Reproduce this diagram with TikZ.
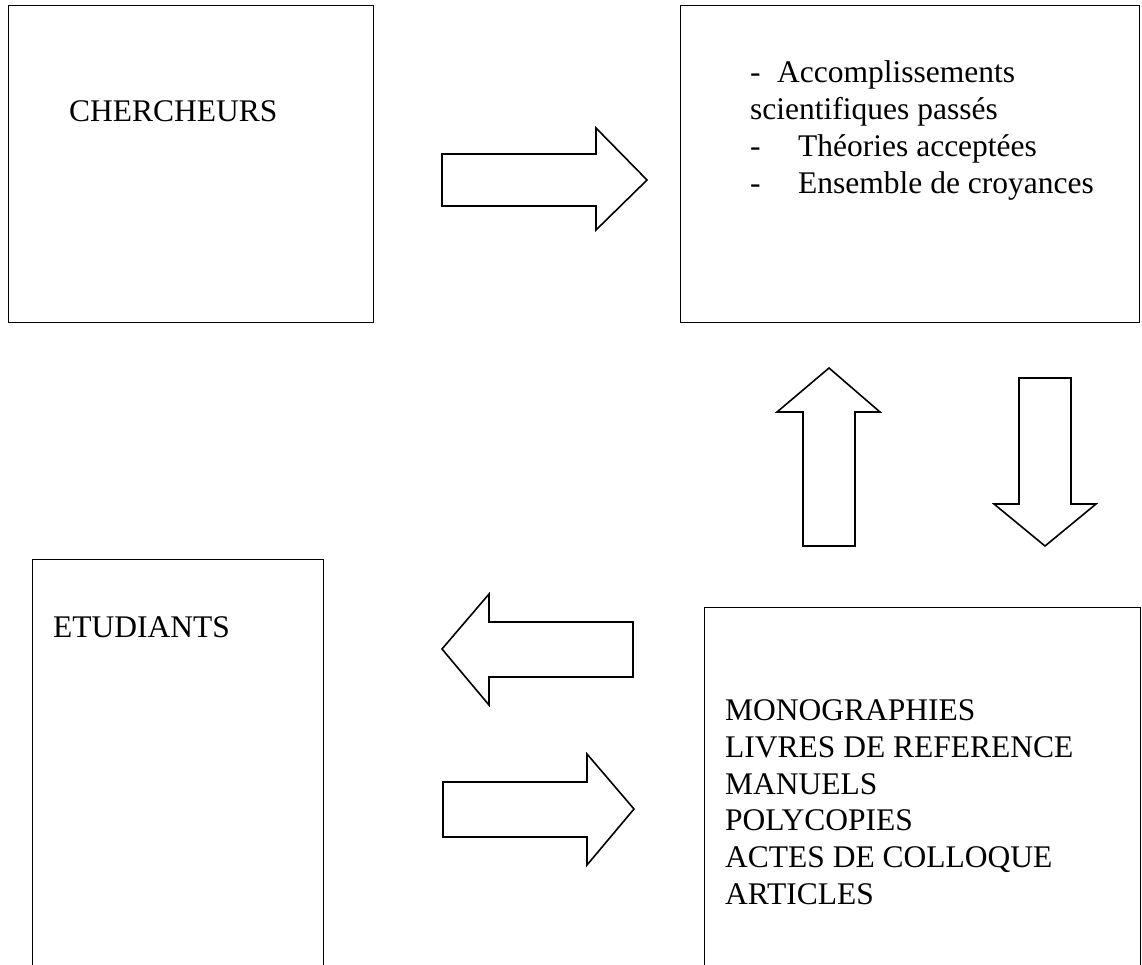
\documentclass[tikz,border=0pt]{standalone}
\usepackage{fontspec}
\setmainfont{Liberation Serif}
\tikzset{
  box/.style={draw=black, line width=1.1pt, inner sep=0pt, anchor=north west},
  blockarrow/.style={draw=black, line width=1.6pt, line join=miter, fill=white},
  txt/.style={inner sep=0pt, anchor=base west, font=\fontsize{31.5}{36.8}\selectfont}
}
\begin{document}
\begin{tikzpicture}[x=1pt,y=-1pt]
\useasboundingbox (0,0) rectangle (1142,964);
% boxes
\node[box, minimum width=365pt, minimum height=317pt] (chbox) at (8,5) {};
\node[box, minimum width=459pt, minimum height=317pt] (parbox) at (680,5) {};
\node[box, minimum width=291pt, minimum height=420pt] (etbox) at (32,559) {};
\node[box, minimum width=436pt, minimum height=380pt] (pubbox) at (704,607) {};
% texts
\node[txt] (ch) at (69,121) {CHERCHEURS};
\node[txt] (p1) at (750,82) {\makebox[27pt][l]{-}Accomplissements};
\node[txt] (p2) at (750,119) {scientifiques passés};
\node[txt] (p3) at (750,156) {\makebox[48pt][l]{-}Théories acceptées};
\node[txt] (p4) at (750,193) {\makebox[48pt][l]{-}Ensemble de croyances};
\node[txt] (et) at (53,637) {ETUDIANTS};
\node[txt] (b1) at (725,720) {MONOGRAPHIES};
\node[txt] (b2) at (725,757) {LIVRES DE REFERENCE};
\node[txt] (b3) at (725,794) {MANUELS};
\node[txt] (b4) at (725,830) {POLYCOPIES};
\node[txt] (b5) at (725,867) {ACTES DE COLLOQUE};
\node[txt] (b6) at (725,904) {ARTICLES};
% block arrows
\draw[blockarrow] (442,154) -- (596,154) -- (596,128) -- (647,180) -- (596,230) -- (596,206) -- (442,206) -- cycle;
\draw[blockarrow] (803,546) -- (803,412) -- (777,412) -- (829,368) -- (880,412) -- (855,412) -- (855,546) -- cycle;
\draw[blockarrow] (1019,378) -- (1071,378) -- (1071,504) -- (1096,504) -- (1045,546) -- (994,504) -- (1019,504) -- cycle;
\draw[blockarrow] (633,622) -- (489,622) -- (489,594) -- (442,649) -- (489,705) -- (489,677) -- (633,677) -- cycle;
\draw[blockarrow] (443,782) -- (587,782) -- (587,754) -- (634,809) -- (587,865) -- (587,837) -- (443,837) -- cycle;
\end{tikzpicture}
\end{document}
